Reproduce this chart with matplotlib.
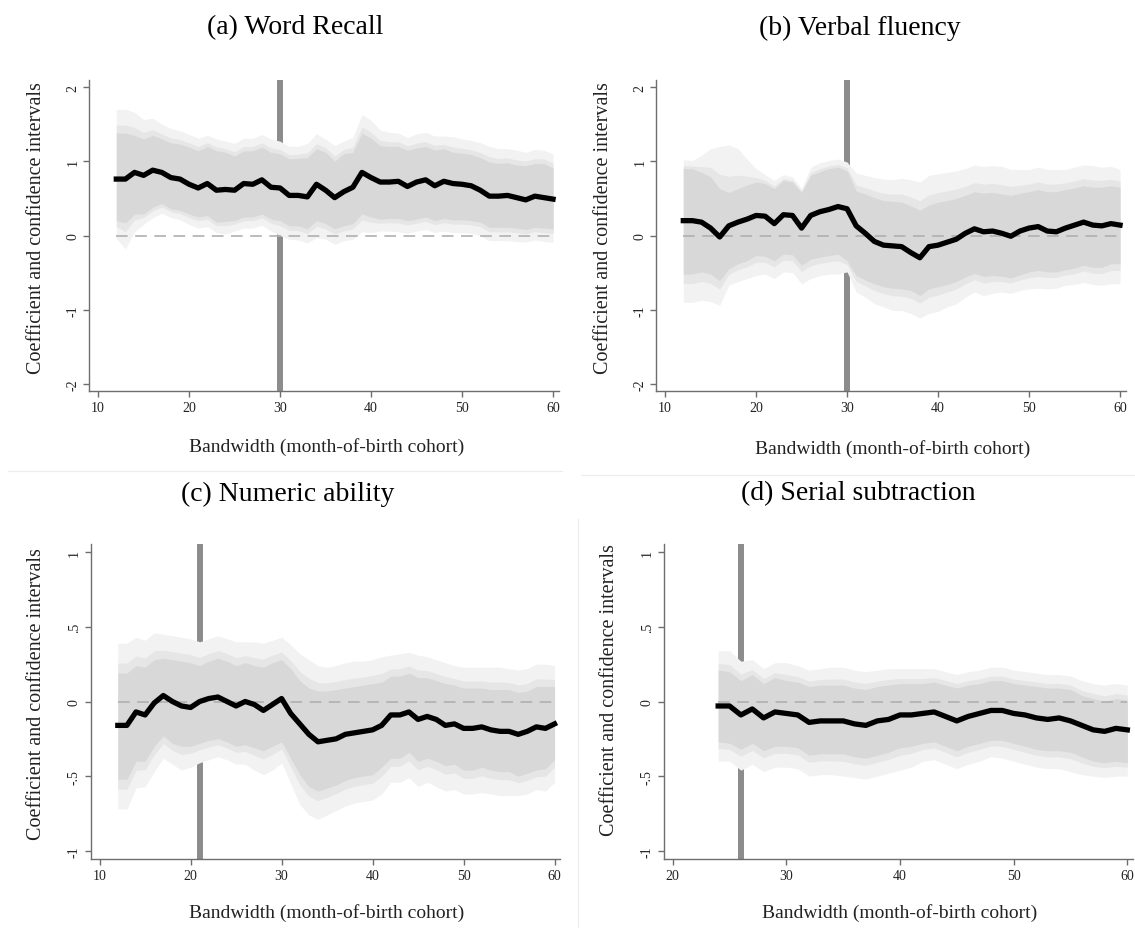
import numpy as np
import matplotlib
matplotlib.use("Agg")
import matplotlib.pyplot as plt
from matplotlib.lines import Line2D

plt.rcParams['font.family'] = ['Liberation Serif', 'DejaVu Serif']

# ---------------- data ----------------
x_abc = list(range(12, 61))
x_d = list(range(24, 61))

coef_a = [0.76,0.76,0.85,0.81,0.88,0.85,0.78,0.76,0.69,0.64,0.70,0.61,0.62,0.61,0.70,0.69,0.75,0.65,0.64,0.54,0.54,0.52,0.69,0.61,0.51,0.59,0.65,0.85,0.78,0.72,0.72,0.73,0.66,0.72,0.75,0.67,0.73,0.70,0.69,0.67,0.61,0.53,0.53,0.54,0.51,0.48,0.53,0.51,0.49]
hi99_a = [1.70,1.70,1.66,1.56,1.58,1.50,1.44,1.41,1.36,1.31,1.35,1.30,1.27,1.24,1.31,1.31,1.36,1.30,1.27,1.20,1.20,1.24,1.37,1.30,1.21,1.27,1.32,1.63,1.55,1.42,1.39,1.38,1.32,1.37,1.39,1.34,1.34,1.33,1.30,1.28,1.25,1.20,1.17,1.17,1.15,1.12,1.16,1.15,1.10]
hi90_a = [1.38,1.38,1.35,1.30,1.35,1.30,1.25,1.23,1.19,1.14,1.20,1.14,1.12,1.07,1.14,1.14,1.19,1.12,1.10,1.03,1.04,1.05,1.17,1.12,1.00,1.10,1.12,1.38,1.31,1.21,1.20,1.20,1.15,1.18,1.20,1.15,1.17,1.12,1.11,1.09,1.05,0.99,0.97,0.98,0.95,0.94,0.97,0.97,0.91]
lo90_a = [0.20,0.17,0.29,0.29,0.38,0.43,0.36,0.34,0.29,0.25,0.27,0.18,0.19,0.20,0.25,0.25,0.29,0.22,0.20,0.13,0.13,0.09,0.20,0.16,0.09,0.13,0.16,0.29,0.25,0.22,0.23,0.23,0.20,0.22,0.25,0.20,0.23,0.21,0.21,0.20,0.18,0.11,0.11,0.11,0.10,0.08,0.11,0.10,0.09]
lo99_a = [-0.04,-0.18,0.05,0.15,0.24,0.30,0.24,0.21,0.15,0.10,0.12,0.04,0.02,0.06,0.10,0.10,0.14,0.06,0.00,-0.05,-0.06,-0.10,-0.03,-0.05,-0.12,-0.07,-0.05,0.05,0.04,0.06,0.06,0.05,0.03,0.06,0.08,0.04,0.06,0.04,0.04,0.03,0.00,-0.07,-0.07,-0.07,-0.08,-0.09,-0.06,-0.08,-0.09]

coef_b = [0.20,0.20,0.18,0.10,-0.02,0.13,0.18,0.22,0.27,0.26,0.16,0.28,0.27,0.10,0.27,0.32,0.35,0.39,0.36,0.13,0.03,-0.08,-0.13,-0.14,-0.15,-0.23,-0.30,-0.15,-0.13,-0.09,-0.05,0.03,0.09,0.05,0.06,0.03,-0.01,0.06,0.10,0.12,0.06,0.05,0.10,0.14,0.18,0.14,0.13,0.16,0.14]
hi99_b = [1.02,1.01,1.08,1.17,1.20,1.22,1.17,1.03,0.90,0.82,0.74,0.82,0.79,0.63,0.92,0.98,1.01,1.03,0.99,0.84,0.81,0.78,0.76,0.75,0.77,0.75,0.72,0.81,0.83,0.85,0.87,0.90,0.95,0.93,0.94,0.93,0.89,0.89,0.89,0.92,0.89,0.89,0.89,0.92,0.95,0.94,0.92,0.93,0.89]
hi90_b = [0.90,0.90,0.85,0.79,0.63,0.58,0.63,0.68,0.72,0.70,0.63,0.74,0.72,0.58,0.81,0.86,0.90,0.92,0.87,0.60,0.56,0.51,0.47,0.46,0.45,0.40,0.34,0.41,0.45,0.47,0.50,0.54,0.59,0.57,0.58,0.56,0.54,0.57,0.59,0.62,0.59,0.59,0.62,0.64,0.67,0.65,0.65,0.67,0.65]
lo90_b = [-0.52,-0.52,-0.49,-0.52,-0.61,-0.45,-0.38,-0.34,-0.27,-0.28,-0.34,-0.25,-0.26,-0.40,-0.32,-0.29,-0.27,-0.25,-0.34,-0.54,-0.60,-0.65,-0.69,-0.71,-0.72,-0.74,-0.81,-0.72,-0.69,-0.66,-0.62,-0.56,-0.51,-0.55,-0.54,-0.55,-0.57,-0.53,-0.49,-0.47,-0.49,-0.49,-0.46,-0.44,-0.40,-0.43,-0.43,-0.38,-0.38]
lo99_b = [-0.90,-0.90,-0.87,-0.89,-0.94,-0.67,-0.62,-0.58,-0.54,-0.52,-0.58,-0.49,-0.50,-0.65,-0.58,-0.54,-0.52,-0.52,-0.49,-0.76,-0.83,-0.92,-0.96,-1.01,-1.01,-1.05,-1.11,-1.05,-1.02,-0.96,-0.92,-0.83,-0.76,-0.81,-0.78,-0.76,-0.78,-0.74,-0.72,-0.71,-0.72,-0.71,-0.67,-0.66,-0.63,-0.66,-0.67,-0.65,-0.65]

coef_c = [-0.16,-0.16,-0.07,-0.09,-0.01,0.04,0.00,-0.03,-0.04,0.00,0.02,0.03,0.00,-0.03,0.00,-0.02,-0.06,-0.02,0.02,-0.08,-0.15,-0.22,-0.27,-0.26,-0.25,-0.22,-0.21,-0.20,-0.19,-0.16,-0.09,-0.09,-0.07,-0.12,-0.10,-0.12,-0.16,-0.15,-0.18,-0.18,-0.17,-0.19,-0.20,-0.20,-0.22,-0.20,-0.17,-0.18,-0.15]
hi99_c = [0.39,0.39,0.43,0.41,0.46,0.45,0.44,0.43,0.42,0.40,0.42,0.44,0.42,0.40,0.40,0.40,0.39,0.41,0.43,0.38,0.32,0.28,0.24,0.23,0.24,0.26,0.27,0.27,0.28,0.30,0.31,0.32,0.33,0.31,0.30,0.28,0.26,0.24,0.23,0.23,0.23,0.23,0.23,0.22,0.21,0.22,0.25,0.25,0.24]
hi90_c = [0.19,0.19,0.24,0.23,0.28,0.29,0.28,0.27,0.26,0.24,0.27,0.29,0.27,0.24,0.26,0.24,0.23,0.26,0.28,0.22,0.14,0.09,0.07,0.07,0.08,0.09,0.10,0.11,0.12,0.13,0.17,0.17,0.19,0.16,0.16,0.14,0.12,0.11,0.09,0.09,0.09,0.08,0.08,0.08,0.06,0.07,0.10,0.10,0.10]
lo90_c = [-0.52,-0.52,-0.40,-0.40,-0.30,-0.23,-0.28,-0.30,-0.30,-0.28,-0.26,-0.25,-0.27,-0.30,-0.29,-0.31,-0.33,-0.30,-0.27,-0.38,-0.49,-0.57,-0.60,-0.58,-0.56,-0.53,-0.51,-0.50,-0.49,-0.44,-0.38,-0.38,-0.34,-0.40,-0.38,-0.40,-0.43,-0.42,-0.46,-0.46,-0.44,-0.46,-0.47,-0.47,-0.50,-0.48,-0.46,-0.45,-0.39]
lo99_c = [-0.72,-0.72,-0.58,-0.57,-0.47,-0.38,-0.42,-0.46,-0.44,-0.41,-0.39,-0.37,-0.39,-0.42,-0.42,-0.46,-0.49,-0.46,-0.41,-0.55,-0.69,-0.76,-0.79,-0.76,-0.73,-0.70,-0.68,-0.67,-0.66,-0.62,-0.54,-0.54,-0.51,-0.57,-0.54,-0.57,-0.60,-0.59,-0.62,-0.62,-0.61,-0.62,-0.63,-0.63,-0.63,-0.62,-0.59,-0.60,-0.54]

coef_d = [-0.03,-0.03,-0.09,-0.05,-0.11,-0.07,-0.08,-0.09,-0.14,-0.13,-0.13,-0.13,-0.15,-0.16,-0.13,-0.12,-0.09,-0.09,-0.08,-0.07,-0.10,-0.13,-0.10,-0.08,-0.06,-0.06,-0.08,-0.09,-0.11,-0.12,-0.11,-0.13,-0.16,-0.19,-0.20,-0.18,-0.19]
hi99_d = [0.34,0.34,0.27,0.28,0.22,0.26,0.26,0.24,0.21,0.22,0.23,0.23,0.21,0.20,0.21,0.22,0.22,0.22,0.22,0.22,0.20,0.18,0.20,0.21,0.23,0.23,0.21,0.20,0.19,0.18,0.18,0.17,0.14,0.12,0.11,0.12,0.11]
hi90_d = [0.21,0.20,0.14,0.18,0.12,0.16,0.14,0.13,0.10,0.11,0.11,0.11,0.09,0.08,0.10,0.11,0.12,0.12,0.12,0.13,0.11,0.09,0.11,0.12,0.14,0.14,0.12,0.11,0.10,0.09,0.09,0.08,0.04,0.02,0.00,0.02,0.01]
lo90_d = [-0.27,-0.28,-0.32,-0.28,-0.33,-0.30,-0.30,-0.31,-0.36,-0.35,-0.35,-0.35,-0.37,-0.38,-0.36,-0.34,-0.31,-0.30,-0.28,-0.27,-0.30,-0.33,-0.30,-0.28,-0.26,-0.26,-0.28,-0.30,-0.32,-0.33,-0.33,-0.34,-0.37,-0.40,-0.41,-0.40,-0.41]
lo99_d = [-0.40,-0.40,-0.46,-0.42,-0.47,-0.44,-0.44,-0.45,-0.50,-0.49,-0.49,-0.50,-0.51,-0.52,-0.50,-0.48,-0.46,-0.44,-0.40,-0.39,-0.42,-0.45,-0.42,-0.40,-0.37,-0.38,-0.40,-0.42,-0.44,-0.45,-0.45,-0.47,-0.49,-0.50,-0.51,-0.50,-0.50]

titles = ["(a) Word Recall", "(b) Verbal fluency", "(c) Numeric ability", "(d) Serial subtraction"]
opt_bw = [30, 30, 21, 26]
xticks_abc = [10, 20, 30, 40, 50, 60]
xticks_d = [20, 30, 40, 50, 60]
yticks_ab = [-2, -1, 0, 1, 2]
yticklabels_ab = ["-2", "-1", "0", "1", "2"]
yticks_cd = [-1, -0.5, 0, 0.5, 1]
yticklabels_cd = ["-1", "-.5", "0", ".5", "1"]
ylabel = "Coefficient and confidence intervals"
xlabel = "Bandwidth (month-of-birth cohort)"

# ---------------- figure ----------------
W, H = 1135, 929
fig = plt.figure(figsize=(W / 100, H / 100), dpi=100)

def px_axes(l, r, t, b):
    return fig.add_axes([l / W, 1 - b / H, (r - l) / W, (b - t) / H])

C_OUT, C_MID, C_IN = "#f2f2f2", "#e6e6e6", "#d8d8d8"
FRAC95 = (1.96 - 1.645) / (2.576 - 1.645)
SPINE = "#6e6e6e"

panels = [
    dict(box=(89, 558.5, 80.6, 392.4), xlim=(9, 60.6), ylim=(-2.1, 2.1), x=x_abc,
         coef=coef_a, hi99=hi99_a, hi90=hi90_a, lo90=lo90_a, lo99=lo99_a,
         xt=xticks_abc, yt=yticks_ab, ytl=yticklabels_ab),
    dict(box=(656, 1125.5, 80.6, 392.4), xlim=(9, 60.6), ylim=(-2.1, 2.1), x=x_abc,
         coef=coef_b, hi99=hi99_b, hi90=hi90_b, lo90=lo90_b, lo99=lo99_b,
         xt=xticks_abc, yt=yticks_ab, ytl=yticklabels_ab),
    dict(box=(90.5, 560, 545, 860), xlim=(9, 60.6), ylim=(-1.055, 1.055), x=x_abc,
         coef=coef_c, hi99=hi99_c, hi90=hi90_c, lo90=lo90_c, lo99=lo99_c,
         xt=xticks_abc, yt=yticks_cd, ytl=yticklabels_cd),
    dict(box=(663.6, 1133, 545, 860), xlim=(19.2, 60.5), ylim=(-1.055, 1.055), x=x_d,
         coef=coef_d, hi99=hi99_d, hi90=hi90_d, lo90=lo90_d, lo99=lo99_d,
         xt=xticks_d, yt=yticks_cd, ytl=yticklabels_cd),
]

for i, p in enumerate(panels):
    ax = px_axes(*p["box"])
    x = np.array(p["x"])
    coef = np.array(p["coef"])
    hi99, hi90 = np.array(p["hi99"]), np.array(p["hi90"])
    lo99, lo90 = np.array(p["lo99"]), np.array(p["lo90"])
    hi95 = hi90 + FRAC95 * (hi99 - hi90)
    lo95 = lo90 + FRAC95 * (lo99 - lo90)

    ax.axvline(opt_bw[i], color="#8c8c8c", lw=4.3, zorder=1)
    ax.fill_between(x, lo99, hi99, color=C_OUT, lw=0, zorder=2)
    ax.fill_between(x, lo95, hi95, color=C_MID, lw=0, zorder=3)
    ax.fill_between(x, lo90, hi90, color=C_IN, lw=0, zorder=4)
    ax.plot([x[0], x[-1]], [0, 0], color="#b0b0b0", lw=1.2, dashes=(7, 4.5), zorder=5)
    ax.plot(x, coef, color="black", lw=3.8, solid_joinstyle="round", zorder=6)

    ax.set_xlim(*p["xlim"])
    ax.set_ylim(*p["ylim"])
    for s in ("top", "right"):
        ax.spines[s].set_visible(False)
    for s in ("left", "bottom"):
        ax.spines[s].set_color(SPINE)
        ax.spines[s].set_linewidth(1.0)
    ax.set_xticks(p["xt"])
    ax.set_xticklabels([str(v) for v in p["xt"]])
    ax.set_yticks(p["yt"])
    ax.set_yticklabels(p["ytl"], rotation=90, va="center")
    ax.tick_params(axis="both", direction="out", length=4, width=1.0, color=SPINE,
                   labelsize=10, labelcolor="#222222", pad=3)
    ax.set_facecolor("white")

# titles and labels (pixel positions)
title_pos = [(295, 28), (860, 28), (288, 494), (858, 494)]
for t, (tx, ty) in zip(titles, title_pos):
    fig.text(tx / W, 1 - ty / H, t, ha="center", va="center", fontsize=20, color="black")

ylab_pos = [(37, 228), (604, 228), (37, 694), (609, 690)]
for (lx, ly) in ylab_pos:
    fig.text(lx / W, 1 - ly / H, ylabel, ha="center", va="center", rotation=90,
             fontsize=14.5, color="#222222")

xlab_pos = [(327, 447), (893, 449), (327, 913), (900, 913)]
for (lx, ly) in xlab_pos:
    fig.text(lx / W, 1 - ly / H, xlabel, ha="center", va="center",
             fontsize=14, color="#222222")

# faint frame lines from the original composite
fig.add_artist(Line2D([8 / W, 562 / W], [1 - 472 / H, 1 - 472 / H], color="#ececec", lw=0.8))
fig.add_artist(Line2D([582 / W, 1135 / W], [1 - 476 / H, 1 - 476 / H], color="#ececec", lw=0.8))
fig.add_artist(Line2D([578 / W, 578 / W], [1 - 520 / H, 0], color="#ececec", lw=0.8))

fig.savefig("out.png", dpi=100, facecolor="white")
